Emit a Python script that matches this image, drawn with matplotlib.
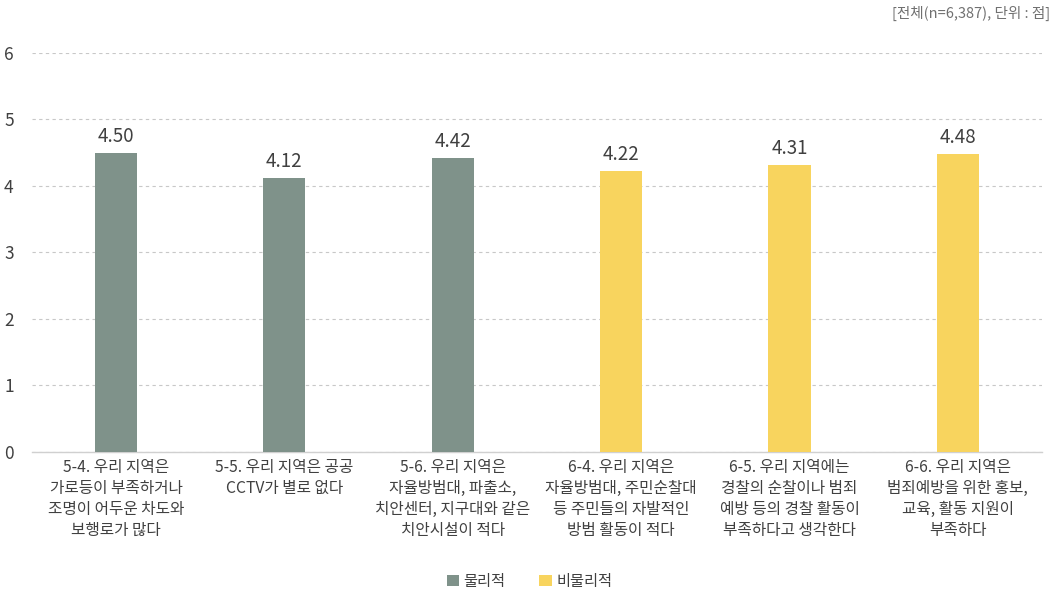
import matplotlib
matplotlib.use("Agg")
import matplotlib.pyplot as plt
from matplotlib.patches import Patch

plt.rcParams['font.family'] = ['Noto Sans CJK KR', 'DejaVu Sans']

categories = [
    "5-4. 우리 지역은\n가로등이 부족하거나\n조명이 어두운 차도와\n보행로가 많다",
    "5-5. 우리 지역은 공공\nCCTV가 별로 없다",
    "5-6. 우리 지역은\n자율방범대, 파출소,\n치안센터, 지구대와 같은\n치안시설이 적다",
    "6-4. 우리 지역은\n자율방범대, 주민순찰대\n등 주민들의 자발적인\n방범 활동이 적다",
    "6-5. 우리 지역에는\n경찰의 순찰이나 범죄\n예방 등의 경찰 활동이\n부족하다고 생각한다",
    "6-6. 우리 지역은\n범죄예방을 위한 홍보,\n교육, 활동 지원이\n부족하다",
]
values = [4.50, 4.12, 4.42, 4.22, 4.31, 4.48]
groups = ["물리적", "물리적", "물리적", "비물리적", "비물리적", "비물리적"]
legend_labels = ["물리적", "비물리적"]
group_colors = {"물리적": "#7f928a", "비물리적": "#f8d45e"}
yticks = [0, 1, 2, 3, 4, 5, 6]
note = "[전체(n=6,387), 단위 : 점]"

text_color = "#404040"

fig = plt.figure(figsize=(10.59, 5.92), dpi=100)
ax = fig.add_axes([0.030, 0.2365, 0.954, 0.674])

x = list(range(len(values)))
colors = [group_colors[g] for g in groups]
bars = ax.bar(x, values, width=0.25, color=colors, zorder=3)

for xi, v in zip(x, values):
    ax.text(xi, v + 0.09, f"{v:.2f}", ha="center", va="bottom",
            fontsize=13.5, color=text_color)

ax.set_xlim(-0.5, 5.5)
ax.set_ylim(0, 6)
ax.set_yticks(yticks)
ax.set_yticklabels([str(t) for t in yticks], fontsize=12.5, color=text_color)
ax.set_xticks(x)
ax.set_xticklabels(categories, fontsize=11.3, color=text_color, linespacing=1.3)
ax.tick_params(axis="both", length=0)
ax.tick_params(axis="y", pad=13)
ax.tick_params(axis="x", pad=5)

ax.grid(axis="y", linestyle=(0, (3, 3)), color="#c8c8c8", linewidth=0.8, zorder=0)
for s in ["top", "right", "left"]:
    ax.spines[s].set_visible(False)
ax.spines["bottom"].set_color("#d0d0d0")
ax.spines["bottom"].set_linewidth(1.0)

handles = [Patch(facecolor=group_colors[l], label=l) for l in legend_labels]
fig.legend(handles=handles, loc="center", bbox_to_anchor=(0.5, 0.018),
           ncol=2, frameon=False, fontsize=11, handlelength=0.8, handleheight=0.8,
           handletextpad=0.3, columnspacing=2.2, labelcolor=text_color)

fig.text(0.992, 0.977, note, ha="right", va="center", fontsize=10.5, color="#707070")

fig.savefig("out.png", dpi=100)
